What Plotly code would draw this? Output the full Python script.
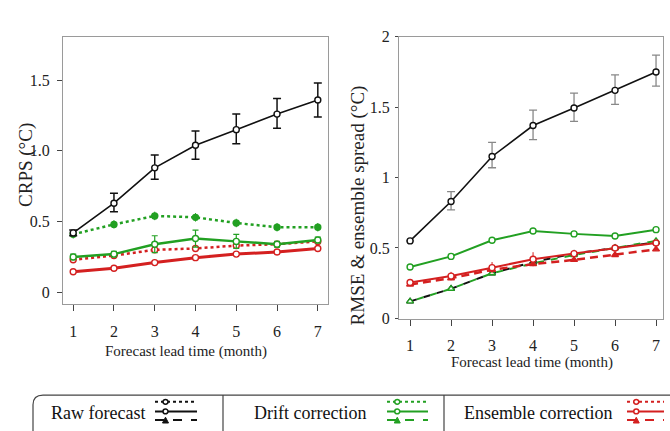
import plotly.graph_objects as go

# ---- data -------------------------------------------------------------
months = [1, 2, 3, 4, 5, 6, 7]

# CRPS (°C)
crps_raw = [0.42, 0.63, 0.88, 1.04, 1.15, 1.26, 1.36]
crps_raw_up = [0.02, 0.07, 0.09, 0.10, 0.11, 0.11, 0.12]
crps_raw_dn = [0.02, 0.06, 0.08, 0.10, 0.10, 0.10, 0.12]
crps_drift_dot = [0.41, 0.48, 0.54, 0.53, 0.49, 0.46, 0.46]
crps_drift = [0.25, 0.27, 0.34, 0.38, 0.36, 0.34, 0.37]
crps_drift_err = [0.02, 0.02, 0.06, 0.06, 0.05, 0.02, 0.02]
crps_ens_dot = [0.23, 0.26, 0.30, 0.31, 0.33, 0.34, 0.36]
crps_ens = [0.145, 0.17, 0.21, 0.245, 0.27, 0.285, 0.31]

# RMSE and ensemble spread (°C)
rmse_raw = [0.55, 0.83, 1.15, 1.37, 1.495, 1.62, 1.75]
rmse_raw_up = [0.0, 0.07, 0.10, 0.11, 0.105, 0.11, 0.12]
rmse_raw_dn = [0.0, 0.06, 0.08, 0.10, 0.095, 0.10, 0.10]
spread_raw = [0.12, 0.21, 0.32, 0.40, 0.46, 0.50, 0.54]
rmse_drift = [0.365, 0.44, 0.555, 0.62, 0.60, 0.585, 0.63]
spread_drift = [0.12, 0.21, 0.32, 0.39, 0.45, 0.50, 0.55]
rmse_ens = [0.255, 0.30, 0.36, 0.42, 0.46, 0.50, 0.535]
spread_ens = [0.24, 0.285, 0.345, 0.385, 0.415, 0.45, 0.49]

BLACK = "#111111"
GREEN = "#22a022"
RED = "#d42020"
FONT = "Liberation Serif"
W, H = 670, 431


def px(x):
    return x / W


def py(y):
    return 1 - y / H


fig = go.Figure()


def add(x, y, color, width, dash, symbol, axis, size=6, err=None, fill="white"):
    marker = dict(symbol=symbol, size=size, color=fill,
                  line=dict(color=color, width=1.4))
    fig.add_trace(go.Scatter(
        x=x, y=y, mode="lines+markers",
        line=dict(color=color, width=width, dash=dash),
        marker=marker, error_y=err,
        xaxis="x" if axis == 1 else "x2",
        yaxis="y" if axis == 1 else "y2",
        showlegend=False, hoverinfo="skip"))


# ---- left panel: CRPS --------------------------------------------------
add(months, crps_ens, RED, 3, "solid", "circle", 1,
    err=dict(type="data", array=[0.01] * 7, color=RED, thickness=1, width=0))
add(months, crps_ens_dot, RED, 2.5, "dot", "circle", 1,
    err=dict(type="data", array=[0.015] * 7, color=RED, thickness=1, width=0))
add(months, crps_drift, GREEN, 2.5, "solid", "circle", 1,
    err=dict(type="data", array=crps_drift_err, color=GREEN, thickness=1.2, width=3))
add(months, crps_drift_dot, GREEN, 2.5, "dot", "circle", 1, size=6, fill=GREEN,
    err=dict(type="data", array=[0.03] * 7, color=GREEN, thickness=1, width=0))
add(months, crps_raw, BLACK, 1.6, "solid", "circle", 1,
    err=dict(type="data", array=crps_raw_up, arrayminus=crps_raw_dn,
             color=BLACK, thickness=1.5, width=4))

# ---- right panel: RMSE & spread ----------------------------------------
add(months, spread_raw, BLACK, 2, "7px,7px", "triangle-up", 2)
add(months, spread_drift, GREEN, 2, "0px,7px,7px,0px", "triangle-up", 2)
add(months, spread_ens, RED, 2.5, "8px,5px", "triangle-up", 2, fill=RED)
add(months, rmse_ens, RED, 2, "solid", "circle", 2,
    err=dict(type="data", array=[0.0, 0.03, 0.04, 0.05, 0.0, 0.0, 0.0],
             color=RED, thickness=1, width=0))
add(months, rmse_drift, GREEN, 2, "solid", "circle", 2)
add(months, rmse_raw, BLACK, 1.6, "solid", "circle", 2,
    err=dict(type="data", array=rmse_raw_up, arrayminus=rmse_raw_dn,
             color="#888888", thickness=1.3, width=4))

axis_common = dict(showline=True, mirror=True, linecolor="#9a9a9a", linewidth=1.2,
                   showgrid=False, zeroline=False, ticks="outside",
                   tickcolor="#444444", tickfont=dict(family=FONT, size=16, color="#222"))

fig.update_layout(
    width=W, height=H, margin=dict(l=0, r=0, t=0, b=0),
    paper_bgcolor="white", plot_bgcolor="white",
    font=dict(family=FONT, color="#222"),
    xaxis=dict(axis_common, domain=[px(63), px(328)], range=[0.75, 7.25],
               tickvals=months, ticklen=6, ticklabelstandoff=7, anchor="y"),
    yaxis=dict(axis_common, domain=[py(307), py(30)], range=[-0.08, 1.806],
               tickvals=[0, 0.5, 1.0, 1.5], ticktext=["0", "0.5", "1.0", "1.5"],
               ticklen=5, ticklabelstandoff=4, anchor="x"),
    xaxis2=dict(axis_common, domain=[px(399), px(663)], range=[0.73, 7.17],
                tickvals=months, ticklen=6, ticklabelstandoff=6, anchor="y2"),
    yaxis2=dict(axis_common, domain=[py(323), py(30)], range=[-0.005, 2.0],
                tickvals=[0, 0.5, 1, 1.5, 2], ticktext=["0", "0.5", "1", "1.5", "2"],
                ticklen=3, ticklabelstandoff=2, anchor="x2"),
)

annotations = [
    dict(text="Forecast lead time (month)", x=px(186), y=py(357), size=15),
    dict(text="Forecast lead time (month)", x=px(532), y=py(368), size=15),
    dict(text="CRPS (°C)", x=px(26), y=py(163), size=19, angle=-90),
    dict(text="RMSE & ensemble spread (°C)", x=px(358), y=py(205), size=19, angle=-90),
]
for a in annotations:
    fig.add_annotation(text=a["text"], x=a["x"], y=a["y"], xref="paper", yref="paper",
                       showarrow=False, textangle=a.get("angle", 0),
                       xanchor="center", yanchor="middle",
                       font=dict(family=FONT, size=a["size"], color="#222"))

# ---- legend box ----------------------------------------------------------
shapes = []
shapes.append(dict(type="path", xref="paper", yref="paper",
                   path=(f"M {px(33)},{py(450)} L {px(33)},{py(412)} "
                         f"Q {px(33)},{py(402)} {px(43)},{py(402)} L {px(700)},{py(402)}"),
                   line=dict(color="#444", width=1.2)))
for xd in (223, 444):
    shapes.append(dict(type="line", xref="paper", yref="paper",
                       x0=px(xd), x1=px(xd), y0=py(402), y1=py(440),
                       line=dict(color="#444", width=1.2)))

legend_items = [("Raw forecast", 49, BLACK, 155, 197),
                ("Drift correction", 252, GREEN, 387, 428),
                ("Ensemble correction", 462, RED, 627, 664)]
rows = [(409, "dot"), (419, "solid"), (428, "dash")]
for label, tx, col, x0, x1 in legend_items:
    fig.add_annotation(text=label, x=px(tx), y=py(421), xref="paper", yref="paper",
                       showarrow=False, xanchor="left", yanchor="middle",
                       font=dict(family=FONT, size=18, color="#111"))
    cx = x0 + (x1 - x0) * 0.25
    for ry, style in rows:
        shapes.append(dict(type="line", xref="paper", yref="paper",
                           x0=px(x0), x1=px(x1), y0=py(ry), y1=py(ry),
                           line=dict(color=col, width=2, dash=style)))
        if style == "dash":
            shapes.append(dict(type="path", xref="paper", yref="paper",
                               path=(f"M {px(cx - 3)},{py(ry + 3)} L {px(cx + 3)},{py(ry + 3)} "
                                     f"L {px(cx)},{py(ry - 3)} Z"),
                               fillcolor=col, line=dict(color=col, width=1)))
        else:
            shapes.append(dict(type="circle", xref="paper", yref="paper",
                               x0=px(cx - 2.5), x1=px(cx + 2.5), y0=py(ry + 2.5), y1=py(ry - 2.5),
                               fillcolor="white", line=dict(color=col, width=1.5)))
fig.update_layout(shapes=shapes)

fig.write_html("out.html")
